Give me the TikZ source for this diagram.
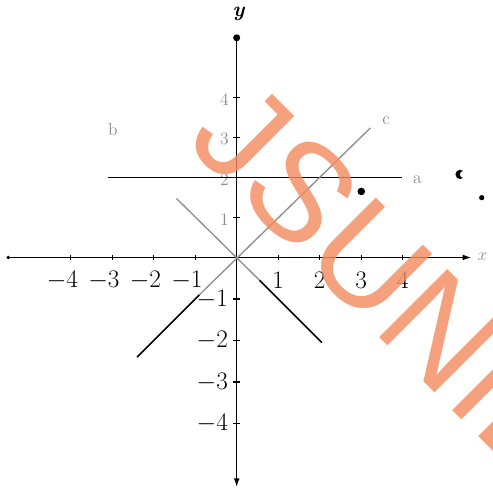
\documentclass[tikz,border=0pt]{standalone}
\usepackage{amsmath}
\usepackage{fontspec}
\newfontfamily\wmfont{Liberation Sans}
\usetikzlibrary{arrows.meta}
\definecolor{wmorange}{RGB}{243,138,92}
\definecolor{scangray}{RGB}{140,140,140}
\tikzset{
  axisline/.style={line width=0.9pt, black},
  graphline/.style={line width=1.1pt, black},
  fadeline/.style={line width=0.9pt, scangray},
  ticklbl/.style={font=\LARGE, inner sep=1pt},
  smalllbl/.style={font=\large, text=scangray, inner sep=1pt},
}

\begin{document}
\begin{tikzpicture}
  \useasboundingbox (-5.7,-5.72) rectangle (6.15,6.2);

  % Axes
  \coordinate (xl) at (-5.5,0);
  \coordinate (xr) at (5.65,0);
  \coordinate (yt) at (0,5.29);
  \coordinate (yb) at (0,-5.53);
  \draw[axisline, -{Latex[length=6pt,width=4pt]}] (xl) -- (xr);
  \draw[axisline, -{Latex[length=6pt,width=4pt]}] (yt) -- (yb);
  \fill (xl) circle (1.3pt);
  \fill (yt) circle (2.4pt);
  \node[smalllbl] (xlab) at (5.92,0.02) {$x$};
  \node[font=\Large\bfseries] (ylab) at (0.05,5.86) {\textit{y}};

  % Ticks and labels
  \foreach \i in {-4,-3,-2,-1} {
    \draw[line width=0.8pt] (\i,-0.07) -- (\i,0.07);
    \draw[line width=0.8pt] (-0.09,\i) -- (0.09,\i);
  }
  \foreach \i in {1,2,3,4} {
    \draw[line width=0.8pt] (\i,-0.07) -- (\i,0.07);
    \draw[line width=0.8pt] (-0.09,0.965*\i) -- (0.09,0.965*\i);
  }
  \foreach \i in {1,2,3,4}
    \node[ticklbl, anchor=north] (xp\i) at (\i,-0.3) {\i};
  \foreach \i in {1,2,3,4} {
    \node[ticklbl, anchor=north east] (xn\i) at (-\i+0.22,-0.3) {$-\i$};
    \node[ticklbl, anchor=east] (yn\i) at (-0.17,-\i) {$-\i$};
    \node[smalllbl, anchor=east] (yp\i) at (-0.15,0.965*\i-0.05) {\i};
  }

  % Line a : y = 2
  \coordinate (aL) at (-3.1,1.93);
  \coordinate (aR) at (3.97,1.93);
  \draw[graphline] (aL) -- (aR);
  \node[smalllbl] (alab) at (4.35,1.88) {a};

  % Line b : y = -x
  \coordinate (bT) at (-1.45,1.42);
  \coordinate (bM) at (0.55,-0.55);
  \coordinate (bB) at (2.05,-2.05);
  \draw[fadeline] (bT) -- (bM);
  \draw[graphline] (bM) -- (bB);
  \node[smalllbl] (blab) at (-2.98,3.08) {b};

  % Line c : y = x
  \coordinate (cB) at (-2.4,-2.4);
  \coordinate (cM) at (-0.9,-0.9);
  \coordinate (cT) at (3.22,3.12);
  \draw[graphline] (cB) -- (cM);
  \draw[fadeline] (cM) -- (cT);
  \node[smalllbl] (clab) at (3.6,3.3) {c};

  % Stray marks of the scan
  \fill (3.0,1.59) circle (2.6pt);
  \fill (5.38,2.0) circle (3.2pt);
  \fill[white] (5.46,2.0) circle (2.4pt);
  \fill (5.9,1.44) circle (1.8pt);

  % Watermark
  \node[rotate=-45, text=wmorange, text opacity=0.8, inner sep=0pt,
        font=\wmfont\fontsize{96}{96}\selectfont] (wm) at (3.68,-0.52) {JSUNIL};
\end{tikzpicture}
\end{document}
